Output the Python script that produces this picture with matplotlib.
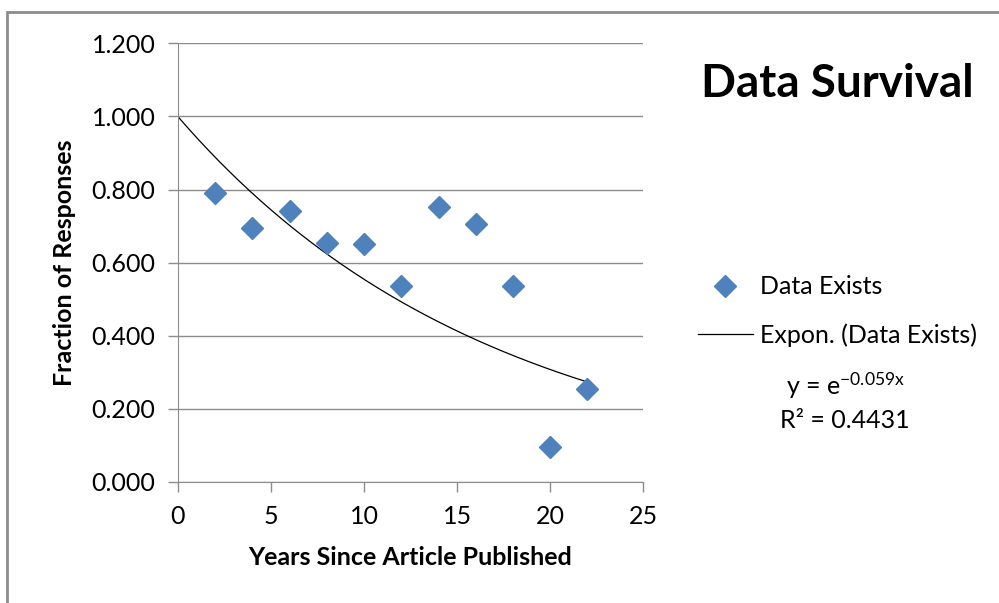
import matplotlib.pyplot as plt
import numpy as np
from matplotlib.patches import Rectangle

# values
years = [2, 4, 6, 8, 10, 12, 14, 16, 18, 20, 22]
fraction = [0.791, 0.696, 0.740, 0.654, 0.651, 0.537, 0.752, 0.705, 0.537, 0.094, 0.254]
fit_coef = -0.059
r_squared = 0.4431
x_ticks = [0, 5, 10, 15, 20, 25]
y_ticks = [0.0, 0.2, 0.4, 0.6, 0.8, 1.0, 1.2]

plt.rcParams['font.family'] = ['Lato', 'DejaVu Sans']
plt.rcParams['mathtext.default'] = 'regular'

fig = plt.figure(figsize=(9.99, 6.03), dpi=100)
# outer chart frame (only left and top edges visible)
fig.patches.append(Rectangle((7 / 999, -0.1), 1.2, 1 - 12 / 603 + 0.1,
                             transform=fig.transFigure, fill=False,
                             edgecolor='#8c8c8c', linewidth=2))

ax = fig.add_axes([0.178, 0.201, 0.466, 0.727])

ax.plot(years, fraction, linestyle='none', marker='D', markersize=11,
        color='#4f81bd', label='Data Exists', zorder=3)

xf = np.linspace(0, max(years), 200)
ax.plot(xf, np.exp(fit_coef * xf), color='black', linewidth=0.9,
        label='Expon. (Data Exists)', zorder=2)

ax.set_xlim(0, 25)
ax.set_ylim(0, 1.2)
ax.set_xticks(x_ticks)
ax.set_yticks(y_ticks)
ax.set_yticklabels([f'{v:.3f}' for v in y_ticks])
ax.grid(axis='y', color='#8c8c8c', linewidth=1)
ax.set_axisbelow(True)
for s in ['top', 'right']:
    ax.spines[s].set_visible(False)
for s in ['left', 'bottom']:
    ax.spines[s].set_color('#8c8c8c')
ax.tick_params(colors='#8c8c8c', labelcolor='black', labelsize=18, width=1, length=7)
ax.tick_params(axis='y', pad=9)
ax.tick_params(axis='x', pad=10)

ax.set_xlabel('Years Since Article Published', fontsize=18, fontweight='bold', labelpad=13)
ax.set_ylabel('Fraction of Responses', fontsize=18, fontweight='bold', labelpad=11)

fig.text(0.838, 0.860, 'Data Survival', fontsize=33, fontweight='bold',
         ha='center', va='center')

ax.legend(loc='center left', bbox_to_anchor=(1.068, 0.389), frameon=False,
          fontsize=18, handlelength=2.2, handletextpad=0.3, labelspacing=1.0)

fig.text(0.846, 0.361, f'y = e$^{{{fit_coef}x}}$', fontsize=18, ha='center', va='center')
fig.text(0.846, 0.303, f'R² = {r_squared}', fontsize=18, ha='center', va='center')

fig.savefig('out.png', dpi=100)
